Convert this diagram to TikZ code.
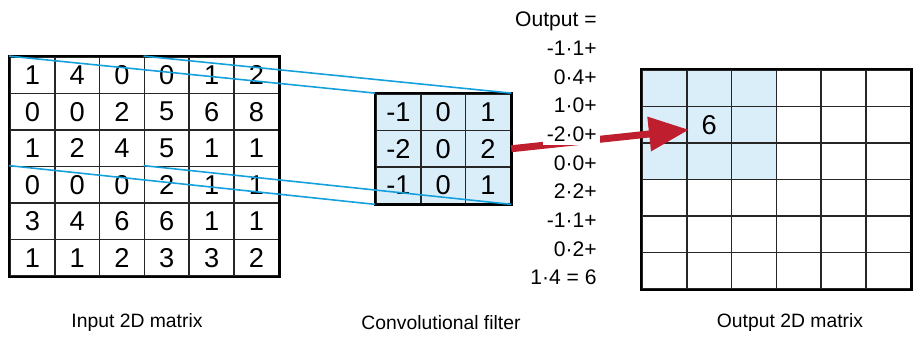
\documentclass[tikz,border=0pt]{standalone}
\usepackage{fontspec}
\setmainfont{Liberation Sans}
\usepackage{xcolor}
\usepackage{tikz}
\usetikzlibrary{arrows.meta}

\definecolor{linkblue}{RGB}{20,160,220}
\definecolor{cellblue}{RGB}{218,238,250}
\definecolor{arrowred}{RGB}{190,30,45}

\tikzset{
  cell/.style={draw=black!85, line width=1pt, minimum width=0.896cm, minimum height=0.73cm,
    inner sep=0pt, font=\fontsize{15.5}{18}\selectfont},
  link/.style={draw=linkblue, line width=0.9pt},
  eqline/.style={anchor=base east, inner sep=2pt, font=\fontsize{12}{14}\selectfont},
  caption/.style={font=\fontsize{11}{13}\selectfont}
}

\begin{document}
\begin{tikzpicture}
  \useasboundingbox (0,0) rectangle (18.38,6.78);

  \foreach \row [count=\r] in {{1,4,0,0,1,2},{0,0,2,5,6,8},{1,2,4,5,1,1},{0,0,0,2,1,1},{3,4,6,6,1,1},{1,1,2,3,3,2}}
    \foreach \v [count=\c] in \row
      \node[cell] (in-\r-\c) at ({0.2+(\c-0.5)*0.896}, {5.64-(\r-0.5)*0.73}) {\v};
  \draw[line width=1.4pt] (in-1-1.north west) rectangle (in-6-6.south east);

  \foreach \row [count=\r] in {{-1,0,1},{-2,0,2},{-1,0,1}}
    \foreach \v [count=\c] in \row
      \node[cell, fill=cellblue] (flt-\r-\c) at ({7.52+(\c-0.5)*0.896}, {4.90-(\r-0.5)*0.73}) {\v};
  \draw[line width=1.4pt] (flt-1-1.north west) rectangle (flt-3-3.south east);

  \foreach \r in {1,...,6}
    \foreach \c in {1,...,6} {
      \ifnum\r<4 \ifnum\c<4 \def\shade{cellblue}\else\def\shade{white}\fi\else\def\shade{white}\fi
      \node[cell, fill=\shade] (out-\r-\c) at ({12.84+(\c-0.5)*0.896}, {5.38-(\r-0.5)*0.73}) {};
    }
  \draw[line width=1.4pt] (out-1-1.north west) rectangle (out-6-6.south east);
  \node[font=\fontsize{15.5}{18}\selectfont] (res) at (out-2-2) {6};

  \draw[link] (in-1-1.north west) -- (flt-1-1.north west);
  \draw[link] (in-1-4.north west) -- (flt-1-3.north east);
  \draw[link] (in-4-1.north west) -- (flt-3-1.south west);
  \draw[link] (in-4-4.north west) -- (flt-3-3.south east);

  \draw[-{Triangle[length=0.8cm,width=0.66cm]}, line width=0.14cm, arrowred]
    (flt-2-3.east) -- ([shift={(0.06,-0.1)}]out-2-2.west);

  \foreach \t [count=\i] in {Output =, -1·1+, 0·4+, 1·0+, -2·0+, 0·0+, 2·2+, -1·1+, 0·2+, 1·4 = 6}
    \node[eqline, fill=white] (eq\i) at (12.01, {6.24-(\i-1)*0.5733}) {\t};

  \node[caption] (lblin) at (2.74,0.32) {Input 2D matrix};
  \node[caption] (lblflt) at (8.82,0.32) {Convolutional filter};
  \node[caption] (lblout) at (15.8,0.32) {Output 2D matrix};
\end{tikzpicture}
\end{document}
